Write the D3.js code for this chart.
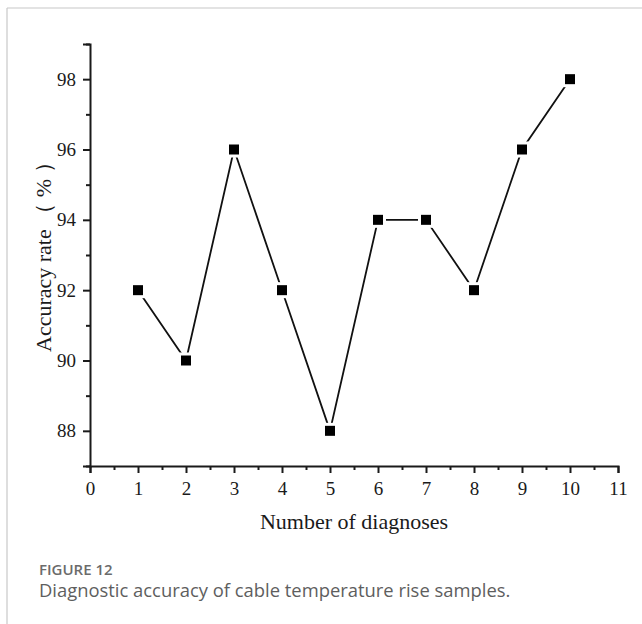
<!DOCTYPE html>
<html>
<head>
<meta charset="utf-8">
<script src="https://cdn.jsdelivr.net/npm/d3@7/dist/d3.min.js"></script>
<style>
  html, body { margin: 0; padding: 0; background: #fff; }
  svg { display: block; }
</style>
</head>
<body>
<div id="chart"></div>
<script>
// data
var diagnoses = [1, 2, 3, 4, 5, 6, 7, 8, 9, 10];
var accuracy = [92, 90, 96, 92, 88, 94, 94, 92, 96, 98];
var xTicks = [0, 1, 2, 3, 4, 5, 6, 7, 8, 9, 10, 11];
var xMinorTicks = [0.5, 1.5, 2.5, 3.5, 4.5, 5.5, 6.5, 7.5, 8.5, 9.5, 10.5];
var yTicks = [88, 90, 92, 94, 96, 98];
var yMinorTicks = [87, 89, 91, 93, 95, 97, 99];

var width = 642, height = 624;
var margin = {top: 44, right: 24, bottom: 158, left: 90};

var svg = d3.select("#chart")
    .append("svg")
    .attr("width", width)
    .attr("height", height);

// frame lines (top and left)
svg.append("line")
    .attr("x1", 7).attr("y1", 8).attr("x2", width).attr("y2", 8)
    .attr("stroke", "#c8c8c8").attr("stroke-width", 1.2);
svg.append("line")
    .attr("x1", 7).attr("y1", 8).attr("x2", 7).attr("y2", height)
    .attr("stroke", "#c8c8c8").attr("stroke-width", 1.2);

var x = d3.scaleLinear()
    .domain([0, 11])
    .range([margin.left, width - margin.right]);

var y = d3.scaleLinear()
    .domain([87, 99])
    .range([height - margin.bottom, margin.top]);

var serif = "'Liberation Serif', 'Times New Roman', serif";

// x axis
var xAxis = d3.axisBottom(x).tickValues(xTicks).tickSize(7).tickPadding(9)
    .tickFormat(d3.format("d"));
svg.append("g")
    .attr("transform", "translate(0," + y(87) + ")")
    .call(xAxis);
svg.append("g")
    .attr("transform", "translate(0," + y(87) + ")")
    .call(d3.axisBottom(x).tickValues(xMinorTicks).tickSize(4).tickFormat(""))
    .call(function(g) { g.select(".domain").remove(); });

// y axis
var yAxis = d3.axisLeft(y).tickValues(yTicks).tickSize(7).tickPadding(7)
    .tickFormat(d3.format("d"));
svg.append("g")
    .attr("transform", "translate(" + x(0) + ",0)")
    .call(yAxis);
svg.append("g")
    .attr("transform", "translate(" + x(0) + ",0)")
    .call(d3.axisLeft(y).tickValues(yMinorTicks).tickSize(4).tickFormat(""))
    .call(function(g) { g.select(".domain").remove(); });

svg.selectAll(".domain")
    .attr("stroke", "#1a1a1a")
    .attr("stroke-width", 2);
svg.selectAll(".tick line")
    .attr("stroke", "#1a1a1a")
    .attr("stroke-width", 2);
svg.selectAll(".tick text")
    .attr("fill", "#1a1a1a")
    .style("font-family", serif)
    .style("font-size", "19px");

// axis titles
svg.append("text")
    .attr("x", 354)
    .attr("y", 529)
    .attr("text-anchor", "middle")
    .style("font-family", serif)
    .style("font-size", "22px")
    .attr("fill", "#1a1a1a")
    .text("Number of diagnoses");

var yTitle = svg.append("text")
    .attr("transform", "translate(51,352) rotate(-90)")
    .attr("text-anchor", "start")
    .style("font-family", serif)
    .style("font-size", "22px")
    .attr("fill", "#1a1a1a");
yTitle.append("tspan").text("Accuracy rate");
yTitle.append("tspan")
    .attr("dx", 4)
    .style("letter-spacing", "6px")
    .text("（%）");

// line + markers
var points = diagnoses.map(function(d, i) { return {x: d, y: accuracy[i]}; });

var line = d3.line()
    .x(function(d) { return x(d.x); })
    .y(function(d) { return y(d.y); });

svg.append("path")
    .datum(points)
    .attr("fill", "none")
    .attr("stroke", "#111")
    .attr("stroke-width", 1.8)
    .attr("d", line);

var ms = 10;
// white halo leaves a small gap between line and marker
svg.selectAll(".halo")
    .data(points)
    .enter().append("rect")
    .attr("class", "halo")
    .attr("x", function(d) { return x(d.x) - ms / 2 - 3; })
    .attr("y", function(d) { return y(d.y) - ms / 2 - 3; })
    .attr("width", ms + 6)
    .attr("height", ms + 6)
    .attr("fill", "#fff");

svg.selectAll(".dot")
    .data(points)
    .enter().append("rect")
    .attr("class", "dot")
    .attr("x", function(d) { return x(d.x) - ms / 2; })
    .attr("y", function(d) { return y(d.y) - ms / 2; })
    .attr("width", ms)
    .attr("height", ms)
    .attr("fill", "#000");

// caption
var sans = "'Open Sans', 'Noto Sans', sans-serif";
svg.append("text")
    .attr("x", 39)
    .attr("y", 575)
    .style("font-family", sans)
    .style("font-size", "15px")
    .style("font-weight", "600")
    .attr("fill", "#6b6b6b")
    .text("FIGURE 12");

svg.append("text")
    .attr("x", 39)
    .attr("y", 597)
    .style("font-family", sans)
    .style("font-size", "18.4px")
    .attr("fill", "#5e5e5e")
    .text("Diagnostic accuracy of cable temperature rise samples.");
</script>
</body>
</html>
